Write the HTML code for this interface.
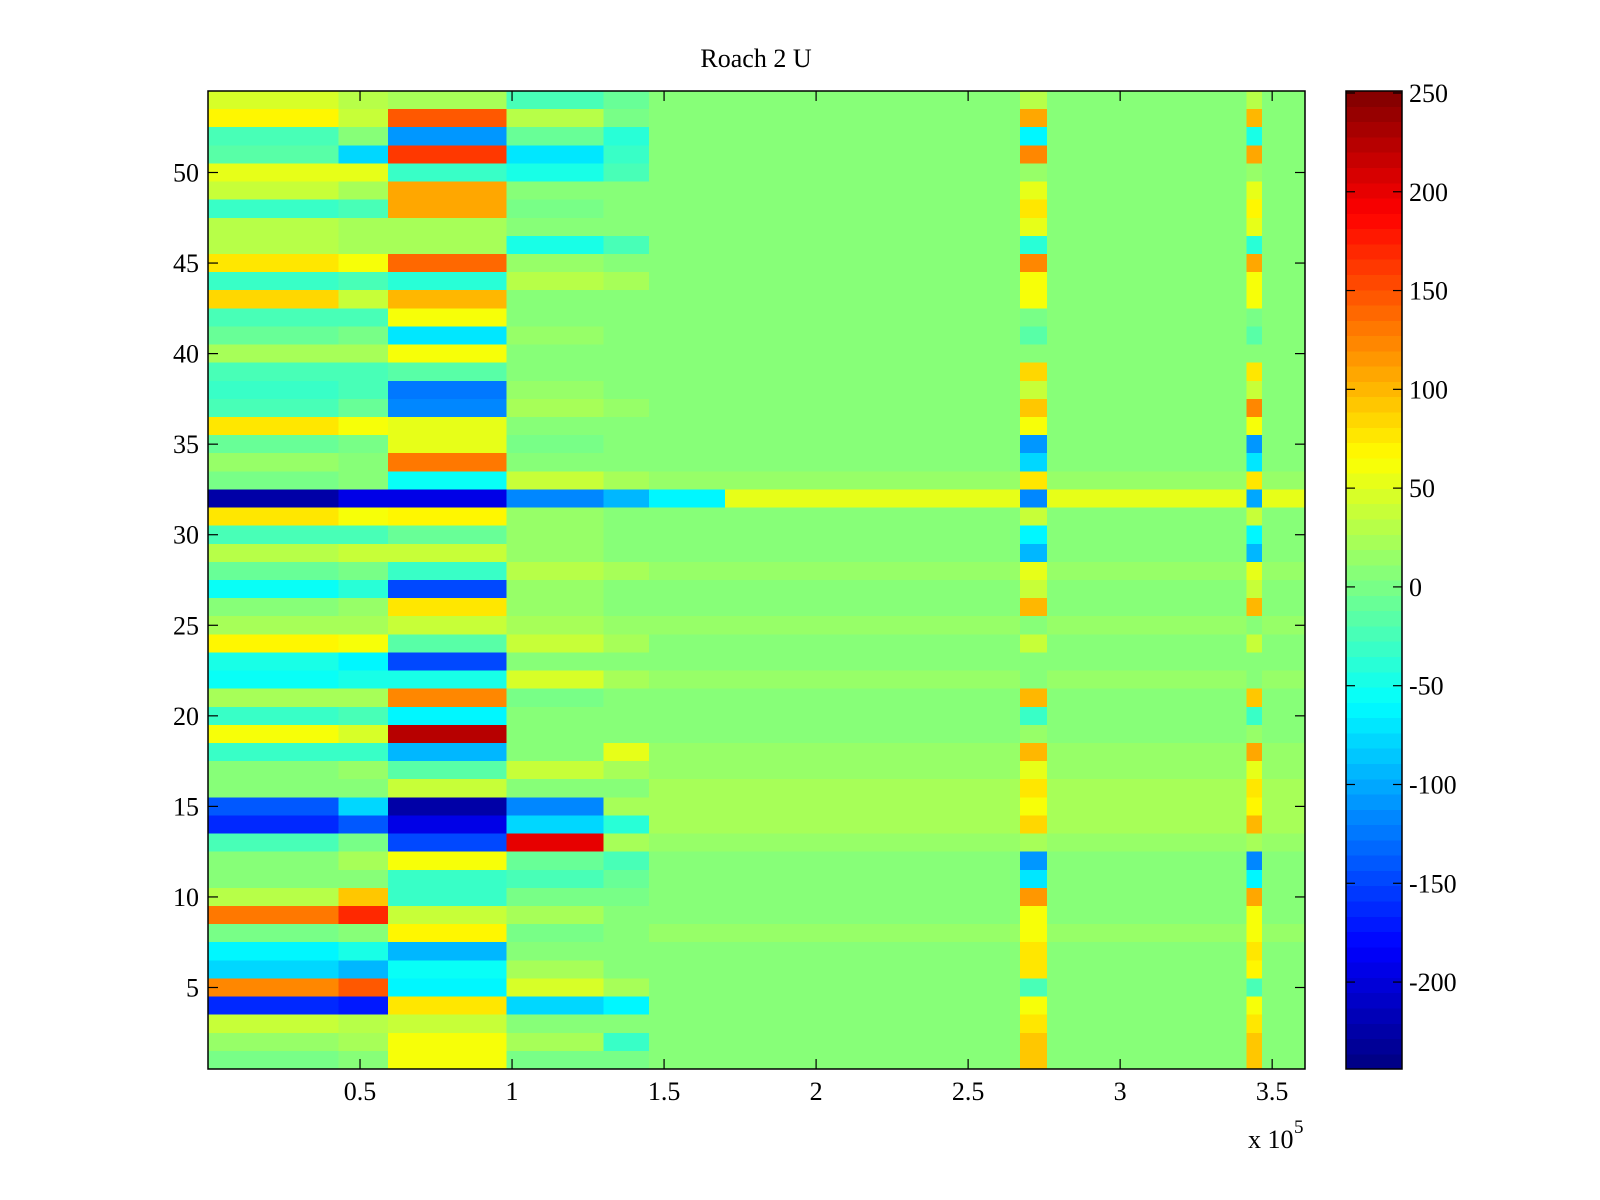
<!DOCTYPE html>
<html><head><meta charset="utf-8">
<style>
html,body{margin:0;padding:0;background:#fff;}
svg{display:block;}
text{font-family:"Liberation Serif",serif;fill:#000;}
</style></head>
<body>
<svg id="chart" width="1600" height="1200" viewBox="0 0 1600 1200" xmlns="http://www.w3.org/2000/svg">
<rect width="1600" height="1200" fill="#fff"/>
<text x="756" y="67" font-size="26" text-anchor="middle">Roach 2 U</text>
<g id="cells"></g>
<g id="cbar"></g>
<g id="axes"></g>
<text x="1248" y="1148" font-size="26">x 10</text>
<text x="1294" y="1133" font-size="19">5</text>
</svg>
<script>
// ---- data (rows listed top to bottom: 54 ... 1) ----
const rowLabels = [54,53,52,51,50,49,48,47,46,45,44,43,42,41,40,39,38,37,36,35,34,33,32,31,30,29,28,27,26,25,24,23,22,21,20,19,18,17,16,15,14,13,12,11,10,9,8,7,6,5,4,3,2,1];
// segment boundaries along x (units of 1e5)
const segStarts = [0, 0.43, 0.592, 0.982, 1.3, 1.45, 1.7, 2.67, 2.76, 3.416, 3.467];
const segEnds   = [0.43, 0.592, 0.982, 1.3, 1.45, 1.7, 2.67, 2.76, 3.416, 3.467, 3.608];
const segA1 = [45,70,-20,-15,55,35,-35,30,30,75,-30,85,-25,-10,25,-25,-35,-25,75,-5,15,0,-228,75,-25,30,-10,-55,10,25,70,-50,-55,20,-30,60,-35,10,5,-140,-160,-25,10,5,30,130,0,-60,-80,120,-165,40,15,0];
const segA2 = [30,40,10,-80,50,25,-20,20,20,60,-20,40,-20,0,20,-20,-20,-10,60,0,10,5,-190,60,-20,35,0,-40,15,20,60,-60,-50,20,-25,45,-30,15,10,-80,-140,0,20,10,90,170,10,-50,-90,150,-170,30,20,10];
const segB  = [25,150,-110,165,-30,111,105,20,22,136,-40,100,58,-70,65,-16,-125,-118,55,55,128,-58,-190,70,-10,35,-30,-145,78,35,-15,-150,-50,122,-65,225,-90,-15,40,-222,-195,-150,58,-35,-35,35,70,-90,-58,-65,75,35,65,65];
const segC1 = [-20,30,-10,-70,-50,10,0,5,-50,15,30,10,5,15,5,10,15,20,10,0,10,35,-120,15,15,15,30,15,15,20,35,5,45,0,10,10,10,35,5,-120,-80,200,-10,-20,0,20,0,10,20,45,-75,10,20,0];
const segC2 = [-10,0,-40,-30,-20,10,10,10,-20,10,25,10,5,10,10,10,10,15,10,5,10,20,-90,10,10,10,20,10,10,15,20,5,20,10,10,10,50,20,10,20,-40,20,-20,-10,0,10,10,10,10,20,-60,10,-30,0];
const segD  = [5,8,5,5,5,8,5,8,5,8,10,8,10,10,10,10,10,10,10,10,10,15,55,5,10,10,15,10,10,15,10,10,15,10,10,10,15,15,20,20,20,15,10,10,10,10,15,10,10,10,10,10,10,10];
const segD1 = [5,8,5,5,5,8,5,8,5,8,10,8,10,10,10,10,10,10,10,10,10,15,-60,5,10,10,15,10,10,15,10,10,15,10,10,10,15,15,20,20,20,15,10,10,10,10,15,10,10,10,10,10,10,10];
const bandE = [30,110,-60,120,15,55,80,50,-40,120,60,65,0,-15,10,85,40,95,60,-110,-80,80,-120,35,-65,-90,55,40,100,10,40,5,10,100,-30,15,100,55,80,65,85,20,-110,-70,115,60,60,80,80,-25,65,80,90,90];
const bandF = [30,100,-50,110,15,50,70,50,-40,110,60,60,0,-15,10,80,40,120,60,-110,-70,80,-100,35,-60,-90,55,40,100,10,40,5,10,90,-30,15,110,55,80,70,100,20,-120,-60,110,60,60,80,70,-25,65,80,90,90];
const xTicks = [0.5,1,1.5,2,2.5,3,3.5];
const xTickLabels = ["0.5","1","1.5","2","2.5","3","3.5"];
const yTicks = [5,10,15,20,25,30,35,40,45,50];
const cTicks = [-200,-150,-100,-50,0,50,100,150,200,250];

// ---- layout ----
const L=208,R=1305,T=91,B=1069, XMAX=3.608, NR=54;
const CMIN=-244, CMAX=251, CBL=1346, CBR=1402;
const NS="http://www.w3.org/2000/svg";
function xScale(v){return L+(v/XMAX)*(R-L);}
function yScale(r){return T+(NR+0.5-r)*(B-T)/NR;}   // r as continuous row coordinate
function cScale(v){return B-(v-CMIN)/(CMAX-CMIN)*(B-T);}
function jet(v){
  let t=(v-CMIN)/(CMAX-CMIN); t=Math.max(0,Math.min(1,t));
  let i=Math.min(63,Math.floor(t*64)); const tt=(i+0.5)/64;
  const c=x=>Math.round(255*Math.max(0,Math.min(1,x)));
  return `rgb(${c(1.5-Math.abs(4*tt-3))},${c(1.5-Math.abs(4*tt-2))},${c(1.5-Math.abs(4*tt-1))})`;
}
function mk(tag,attrs,parent){const e=document.createElementNS(NS,tag);for(const k in attrs)e.setAttribute(k,attrs[k]);parent.appendChild(e);return e;}

const segValues=[segA1,segA2,segB,segC1,segC2,segD1,segD,bandE,segD,bandF,segD];
const cells=document.getElementById('cells');
rowLabels.forEach((row,ri)=>{
  const y0=yScale(row+0.5), y1=yScale(row-0.5);
  segValues.forEach((arr,si)=>{
    const x0=xScale(segStarts[si]), x1=xScale(segEnds[si]);
    const r=mk('rect',{x:x0,y:y0,width:x1-x0+0.6,height:y1-y0+0.6,fill:jet(arr[ri]),'shape-rendering':'crispEdges'},cells);
    
    
  });
});

// colorbar
const cb=document.getElementById('cbar');
for(let i=0;i<64;i++){
  const v0=CMIN+(CMAX-CMIN)*i/64, v1=CMIN+(CMAX-CMIN)*(i+1)/64;
  const r=mk('rect',{x:CBL,y:cScale(v1),width:CBR-CBL,height:cScale(v0)-cScale(v1)+0.6,fill:jet((v0+v1)/2),'shape-rendering':'crispEdges'},cb);
  
  
}
const cbf=mk('rect',{x:CBL,y:T,width:CBR-CBL,height:B-T,fill:'none',stroke:'#000','stroke-width':1.5},cb);


cTicks.forEach(v=>{
  const y=cScale(v);
  mk('line',{x1:CBL,x2:CBL+9,y1:y,y2:y,stroke:'#000','stroke-width':1.2},cb);
  mk('line',{x1:CBR-9,x2:CBR,y1:y,y2:y,stroke:'#000','stroke-width':1.2},cb);
  const t=mk('text',{x:1409,y:y+9,'font-size':26},cb);
  t.textContent=String(v);
  
  
});

// axes
const ax=document.getElementById('axes');
const fr=mk('rect',{x:L,y:T,width:R-L,height:B-T,fill:'none',stroke:'#000','stroke-width':1.5},ax);


xTicks.forEach((v,i)=>{
  const x=xScale(v);
  mk('line',{x1:x,x2:x,y1:B,y2:B-10,stroke:'#000','stroke-width':1.2},ax);
  mk('line',{x1:x,x2:x,y1:T,y2:T+10,stroke:'#000','stroke-width':1.2},ax);
  const t=mk('text',{x:x,y:B+31,'font-size':26,'text-anchor':'middle'},ax);
  t.textContent=xTickLabels[i];
  
  
});
yTicks.forEach(v=>{
  const y=yScale(v);
  mk('line',{x1:L,x2:L+10,y1:y,y2:y,stroke:'#000','stroke-width':1.2},ax);
  mk('line',{x1:R,x2:R-10,y1:y,y2:y,stroke:'#000','stroke-width':1.2},ax);
  const t=mk('text',{x:L-9,y:y+9,'font-size':26,'text-anchor':'end'},ax);
  t.textContent=String(v);
  
  
});
</script>
</body></html>
